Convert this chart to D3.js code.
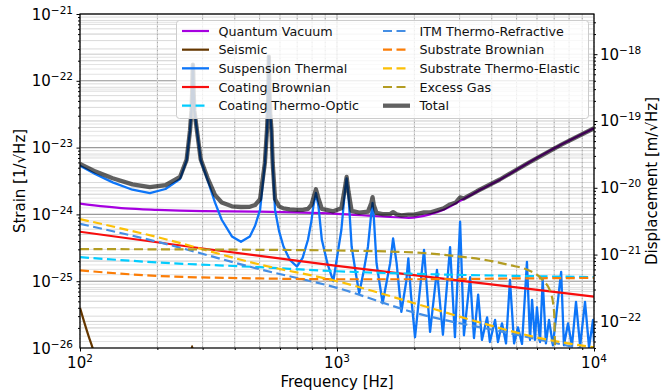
<!DOCTYPE html>
<html><head><meta charset="utf-8">
<script src="https://cdn.jsdelivr.net/npm/d3@7"></script>
<style>body{margin:0;background:#fff}svg{display:block}text{font-family:"DejaVu Sans",sans-serif}</style>
</head><body><svg id="c" width="672" height="392"></svg>
<script>
// ---------------- data (strain, 1/sqrt(Hz)) ----------------
const seriesNames = ["Quantum Vacuum","Seismic","Suspension Thermal","Coating Brownian","Coating Thermo-Optic",
  "ITM Thermo-Refractive","Substrate Brownian","Substrate Thermo-Elastic","Excess Gas","Total"];

const qvFreq = [100,150,200,300,500,1000,1500,1900,2300,2600,3000,3500,4300,5600,7500,10000];
const qvStrain = [1.45e-24,1.23e-24,1.17e-24,1.12e-24,1.10e-24,1.02e-24,9.3e-25,8.9e-25,1.0e-24,1.17e-24,1.58e-24,2.19e-24,3.31e-24,6.03e-24,1.12e-23,1.95e-23];

const seisFreq = [100,104,108,112,116,125,150,200,250,266,273,280,295,400,10000];
const seisStrain = [3.98e-26,2.40e-26,1.51e-26,1.0e-26,6.3e-27,2.5e-27,6.3e-28,2.5e-28,4e-28,2.5e-27,1.07e-26,2.5e-27,5e-28,1.6e-28,1e-29];

const stFreq = [100,115,134,160,187,215,245,260,268,271.5,273.25,274.2,275,275.8,276.75,278.5,285,295,314,335,356,390,423,458,480,502,524,534,538.5,540.75,542,543,544.2,546.5,550,556,562,574,595,619,655,698,735,771,795,809,828,847,873,920,967,1000,1040,1075,1090,1109,1140,1180,1220,1270,1320,1360,1375,1390,1425,1505,1610,1653,1706,1780,1860,1895,1940,2012,2181,2302,2449,2583,2754,2877,3013,3118,3297,3412,3542,3664,3838,3934,4121,4230,4385,4547,4710,4887,5058,5248,5484,5637,5741,5890,5998,6166,6313,6500,6683,6921,7450,7638,7925,8208,8511,8831,9227,9566,9910,10000];
const stStrain = [5.37e-24,3.98e-24,3.02e-24,2.34e-24,2.09e-24,2.40e-24,3.39e-24,6.46e-24,1.82e-23,3.63e-23,7.24e-23,1.41e-22,1.74e-22,1.41e-22,7.24e-23,3.63e-23,1.82e-23,6.46e-24,3.24e-24,1.51e-24,8.32e-25,4.68e-25,3.89e-25,4.68e-25,6.76e-25,1.17e-24,5.75e-24,1.82e-23,3.63e-23,7.24e-23,1.35e-22,2.29e-22,1.35e-22,6.3e-23,3.2e-23,1.82e-23,5.75e-24,1.17e-24,5.62e-25,3.31e-25,2.09e-25,1.66e-25,2.24e-25,4.17e-25,7.94e-25,1.32e-24,2.09e-24,1.32e-24,4.17e-25,1.78e-25,1.0e-25,2.24e-25,5.89e-25,2.34e-24,3.47e-24,1.86e-24,3.31e-25,1.41e-25,6.61e-26,1.41e-25,3.31e-25,1.05e-24,1.48e-24,9.33e-25,1.86e-25,4.68e-26,1.86e-25,4.37e-25,1.86e-25,3.47e-26,1.0e-25,2.19e-25,6.31e-26,1.45e-26,2.95e-25,1.74e-26,1.48e-25,1.58e-26,3.24e-25,1.45e-26,7.76e-25,1.55e-26,1.15e-25,1.41e-26,6.31e-26,1.32e-26,2.88e-26,1.23e-26,2.63e-26,1.23e-26,2.34e-26,1.17e-26,1.05e-25,1.17e-26,2.04e-26,1.15e-26,1.95e-25,1.32e-26,5.25e-26,1.32e-26,4.07e-26,1.23e-26,1.05e-25,1.17e-26,2.63e-26,1.10e-26,1.38e-25,1.10e-26,2.34e-26,1.07e-26,4.90e-26,1.07e-26,4.90e-26,1.02e-26,2.63e-26,1.26e-26];

const cbFreq = [100,300,1000,3000,10000];
const cbStrain = [5.50e-25,3.09e-25,1.70e-25,1.02e-25,5.89e-26];

const ctoFreq = [100,200,500,1000,2000,5000,10000];
const ctoStrain = [2.29e-25,1.91e-25,1.62e-25,1.41e-25,1.29e-25,1.20e-25,1.15e-25];

const itmFreq = [100,200,500,1000,2000,5000,10000];
const itmStrain = [7.24e-25,3.89e-25,1.51e-25,7.94e-26,3.39e-26,1.58e-26,8.9e-27];

const sbFreq = [100,200,500,1000,2000,5000,10000];
const sbStrain = [1.45e-25,1.20e-25,1.10e-25,1.07e-25,1.07e-25,1.10e-25,1.12e-25];

const steFreq = [100,200,500,1000,2000,3000,6300,10000];
const steStrain = [8.51e-25,4.57e-25,1.78e-25,1.0e-25,4.68e-26,2.95e-26,1.38e-26,1.02e-26];

const egFreq = [100,500,1000,2000,3000,4000,4700,5500,6300,6800,7000,7050,7100,7200,10000];
const egStrain = [3.02e-25,2.95e-25,2.88e-25,2.69e-25,2.34e-25,2.0e-25,1.74e-25,1.48e-25,1.05e-25,6.61e-26,3.31e-26,1.0e-26,3e-27,5e-28,1e-29];

const totFreq = [100,115,134,160,187,215,245,260,268,271.5,273.25,274.2,275,275.8,276.75,278.5,285,295,314,335,356,390,423,458,480,502,524,534,538.5,540.75,542,543,544.2,546.5,550,556,562,574,595,619,655,698,735,771,795,809,828,847,873,967,1040,1075,1090,1109,1140,1220,1320,1360,1375,1390,1425,1505,1610,1653,1706,1780,1895,2000,2181,2300,2600,2754,2900,3013,3118,3500,4300,5600,7500,10000];
const totStrain = [5.71e-24,4.37e-24,3.47e-24,2.82e-24,2.57e-24,2.75e-24,3.63e-24,6.61e-24,1.82e-23,3.63e-23,7.24e-23,1.41e-22,1.74e-22,1.41e-22,7.24e-23,3.63e-23,1.82e-23,6.61e-24,3.47e-24,1.96e-24,1.51e-24,1.32e-24,1.29e-24,1.30e-24,1.38e-24,1.70e-24,5.88e-24,1.82e-23,3.63e-23,7.24e-23,1.35e-22,2.29e-22,1.35e-22,6.3e-23,3.2e-23,1.82e-23,5.88e-24,1.70e-24,1.32e-24,1.23e-24,1.19e-24,1.17e-24,1.17e-24,1.21e-24,1.39e-24,1.74e-24,2.38e-24,1.74e-24,1.21e-24,1.11e-24,1.24e-24,2.58e-24,3.63e-24,2.15e-24,1.13e-24,1.06e-24,1.10e-24,1.48e-24,1.81e-24,1.39e-24,1.05e-24,1.01e-24,1.01e-24,1.08e-24,1.00e-24,0.97e-24,0.99e-24,0.99e-24,1.07e-24,1.07e-24,1.23e-24,1.41e-24,1.51e-24,1.80e-24,1.73e-24,2.22e-24,3.33e-24,6.03e-24,1.12e-23,1.95e-23];

const armLength = 3995; // displacement = strain * L
const xTickExps = [2,3,4];
const yTickExps = [-26,-25,-24,-23,-22,-21];
const yRightTickExps = [-22,-21,-20,-19,-18];

// ---------------- chart ----------------
const svg = d3.select("#c");
const L=80, R=594, T=14, B=348;
const x = d3.scaleLog().domain([1e2,1e4]).range([L,R]);
const y = d3.scaleLog().domain([1e-26,1e-21]).range([B,T]);
const yR = d3.scaleLog().domain([1e-26*armLength,1e-21*armLength]).range([B,T]);
const isMajor = v => Math.abs(Math.log10(v)-Math.round(Math.log10(v)))<1e-6;

svg.append("defs").append("clipPath").attr("id","clip").append("rect")
  .attr("x",L).attr("y",T).attr("width",R-L).attr("height",B-T);

// grid
const grid = svg.append("g");
yR.ticks().forEach(v=>{
  grid.append("line").attr("x1",L).attr("x2",R).attr("y1",yR(v)).attr("y2",yR(v))
    .attr("stroke", isMajor(v)?"#c4c4c4":"#e0e0e0").attr("stroke-width",0.9);
});
y.ticks().forEach(v=>{
  grid.append("line").attr("x1",L).attr("x2",R).attr("y1",y(v)).attr("y2",y(v))
    .attr("stroke", isMajor(v)?"#9a9a9a":"#d6d6d6").attr("stroke-width",isMajor(v)?1.1:0.9);
});
x.ticks().forEach(v=>{
  grid.append("line").attr("x1",x(v)).attr("x2",x(v)).attr("y1",T).attr("y2",B)
    .attr("stroke", isMajor(v)?"#b0b0b0":"#d0d0d0").attr("stroke-width",1.1);
  grid.append("line").attr("x1",x(v)).attr("x2",x(v)).attr("y1",T).attr("y2",B)
    .attr("stroke","#666").attr("stroke-width",0.7).attr("stroke-dasharray","1,3").attr("opacity",0.6);
});

// series
const D = "9,4.5";
const series = [
  {name:seriesNames[0], f:qvFreq, v:qvStrain, color:"#a600e0", w:2.2, curve:d3.curveMonotoneX},
  {name:seriesNames[1], f:seisFreq, v:seisStrain, color:"#653700", w:2.2, curve:d3.curveMonotoneX},
  {name:seriesNames[2], f:stFreq, v:stStrain, color:"#0d75f8", w:2.3, curve:d3.curveLinear},
  {name:seriesNames[3], f:cbFreq, v:cbStrain, color:"#f80d0d", w:2.2, curve:d3.curveLinear},
  {name:seriesNames[4], f:ctoFreq, v:ctoStrain, color:"#02ccfe", w:2.2, dash:D, curve:d3.curveMonotoneX},
  {name:seriesNames[5], f:itmFreq, v:itmStrain, color:"#448ee4", w:2.2, dash:D, curve:d3.curveMonotoneX},
  {name:seriesNames[6], f:sbFreq, v:sbStrain, color:"#fb7d07", w:2.2, dash:D, curve:d3.curveMonotoneX},
  {name:seriesNames[7], f:steFreq, v:steStrain, color:"#fcc006", w:2.2, dash:D, curve:d3.curveMonotoneX},
  {name:seriesNames[8], f:egFreq, v:egStrain, color:"#b39c22", w:2.2, dash:D, curve:d3.curveMonotoneX},
  {name:seriesNames[9], f:totFreq, v:totStrain, color:"#000", w:4.3, op:0.62, curve:d3.curveLinear}
];
const plot = svg.append("g").attr("clip-path","url(#clip)");
series.forEach(s=>{
  const n = Math.min(s.f.length, s.v.length);
  const pts = d3.range(n).map(i=>[s.f[i], s.v[i]]);
  const line = d3.line().x(d=>x(d[0])).y(d=>y(d[1])).curve(s.curve);
  plot.append("path").attr("d",line(pts)).attr("fill","none")
    .attr("stroke",s.color).attr("stroke-width",s.w)
    .attr("stroke-dasharray",s.dash||null).attr("opacity",s.op||1)
    .attr("stroke-linejoin","round");
});

// legend
const lg = svg.append("g");
lg.append("rect").attr("x",176.5).attr("y",20.5).attr("width",412).attr("height",98).attr("rx",3)
  .attr("fill","#fff").attr("fill-opacity",0.8).attr("stroke","#cccccc").attr("stroke-width",1);
series.forEach((s,i)=>{
  const col = i<5?0:1, row = i%5;
  const hx = col===0?182:383, ty = 31 + row*18.67;
  lg.append("line").attr("x1",hx).attr("x2",hx+27).attr("y1",ty).attr("y2",ty)
    .attr("stroke",s.color).attr("stroke-width",s.w).attr("opacity",s.op||1)
    .attr("stroke-dasharray",s.dash||null);
  lg.append("text").attr("x",hx+36.5).attr("y",ty+4.6).attr("font-size",12.7).attr("fill","#111").text(s.name);
});

// axes (ticks)
const majX = x.ticks().filter(isMajor), minX = x.ticks().filter(v=>!isMajor(v));
const majY = y.ticks().filter(isMajor), minY = y.ticks().filter(v=>!isMajor(v));
const majYR = yR.ticks().filter(isMajor), minYR = yR.ticks().filter(v=>!isMajor(v));
function styleAxis(g){ g.select(".domain").remove(); g.selectAll("line").attr("stroke","#000").attr("stroke-width",1); }
svg.append("g").attr("transform",`translate(0,${B})`).call(d3.axisBottom(x).tickValues(majX).tickSize(3.5).tickFormat("")).call(styleAxis);
svg.append("g").attr("transform",`translate(0,${B})`).call(d3.axisBottom(x).tickValues(minX).tickSize(2).tickFormat("")).call(styleAxis);
svg.append("g").attr("transform",`translate(${L},0)`).call(d3.axisLeft(y).tickValues(majY).tickSize(3.5).tickFormat("")).call(styleAxis);
svg.append("g").attr("transform",`translate(${L},0)`).call(d3.axisLeft(y).tickValues(minY).tickSize(2).tickFormat("")).call(styleAxis);
svg.append("g").attr("transform",`translate(${R},0)`).call(d3.axisRight(yR).tickValues(majYR).tickSize(3.5).tickFormat("")).call(styleAxis);
svg.append("g").attr("transform",`translate(${R},0)`).call(d3.axisRight(yR).tickValues(minYR).tickSize(2).tickFormat("")).call(styleAxis);

// spines
svg.append("rect").attr("x",L).attr("y",T).attr("width",R-L).attr("height",B-T)
  .attr("fill","none").attr("stroke","#000").attr("stroke-width",1.2);

// tick labels
function powLabel(px,py,exp,anchor){
  const t = svg.append("text").attr("x",px).attr("y",py).attr("text-anchor",anchor).attr("font-size",15).attr("fill","#000");
  t.append("tspan").text("10");
  t.append("tspan").attr("dy",-6).attr("font-size",10.5).text(exp<0?"\u2212"+(-exp):String(exp));
}
xTickExps.forEach(e=>powLabel(x(Math.pow(10,e)), 368, e, "middle"));
yTickExps.forEach(e=>powLabel(73, y(Math.pow(10,e))+5.5, e, "end"));
yRightTickExps.forEach(e=>powLabel(600, yR(Math.pow(10,e))+5.5, e, "start"));

// axis titles
svg.append("text").attr("x",337).attr("y",387).attr("text-anchor","middle").attr("font-size",15).text("Frequency [Hz]");
svg.append("text").attr("transform","translate(25,181) rotate(-90)").attr("text-anchor","middle").attr("font-size",15).text("Strain [1/\u221AHz]");
svg.append("text").attr("transform","translate(657,181) rotate(-90)").attr("text-anchor","middle").attr("font-size",15).text("Displacement [m/\u221AHz]");
</script></body></html>
